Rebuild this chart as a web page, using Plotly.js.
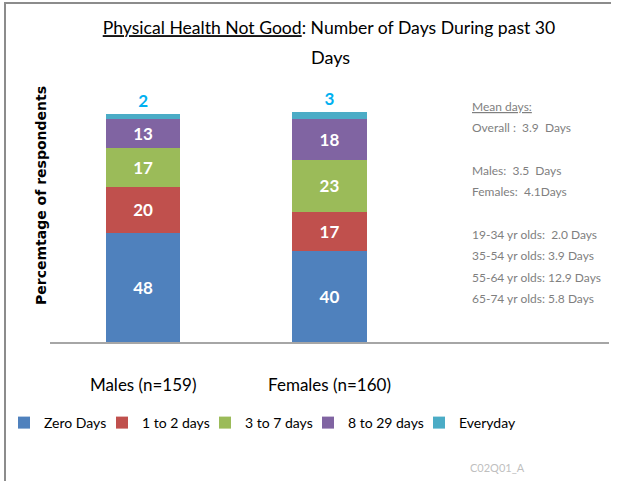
<!DOCTYPE html>
<html><head><meta charset="utf-8">
<script src="https://cdn.plot.ly/plotly-3.0.1.min.js"></script>
<style>html,body{margin:0;padding:0;background:#fff;}</style>
</head><body><div id="chart" style="width:621px;height:481px;"></div>
<script>
const categories = ['Males (n=159)', 'Females (n=160)'];
const seriesNames = ['Zero Days', '1 to 2 days', '3 to 7 days', '8 to 29 days', 'Everyday'];
const zeroDays = [48, 40];
const oneToTwoDays = [20, 17];
const threeToSevenDays = [17, 23];
const eightTo29Days = [13, 18];
const everyday = [2, 3];
const seriesValues = [zeroDays, oneToTwoDays, threeToSevenDays, eightTo29Days, everyday];
const colors = ['#4f81bd', '#c0504d', '#9bbb59', '#8064a2', '#4bacc6'];
const meanLines = ['<u>Mean days:</u>', 'Overall :  3.9  Days', '', 'Males:  3.5  Days', 'Females:  4.1Days', '',
  '19-34 yr olds:  2.0 Days', '35-54 yr olds: 3.9 Days', '55-64 yr olds: 12.9 Days', '65-74 yr olds: 5.8 Days'];
const titleLine1 = '<u>Physical Health Not Good</u>: Number of Days During past 30';
const titleLine2 = 'Days';
const yTitle = 'Percemtage of respondents';
const codeLabel = 'C02Q01_A';

const FONT = 'Lato, "Open Sans", sans-serif';
const W = 621, H = 481, L = 50, R = 609, T = 104, B = 342;
const pxPerUnit = 2.28;
const px2x = p => (p - L) / (R - L);
const py2y = p => (B - p) / (B - T);
// left edge (px) of each legend entry
const legendLeft = [4, 102, 205, 308, 419];
const legendIds = ['legend', 'legend2', 'legend3', 'legend4', 'legend5'];

const traces = seriesValues.map((vals, i) => {
  const last = i === seriesValues.length - 1;
  return {
    type: 'bar', name: seriesNames[i], x: categories, y: vals,
    legend: legendIds[i],
    marker: {color: colors[i], line: {width: 0}},
    text: vals.map(String),
    textposition: last ? 'outside' : 'inside',
    insidetextanchor: 'middle',
    textangle: 0,
    constraintext: 'none',
    cliponaxis: false,
    textfont: {family: FONT, size: 17, weight: 'bold', color: last ? '#00b0f0' : '#ffffff'},
    hoverinfo: 'none'
  };
});

const annotations = [];
annotations.push({xref: 'paper', yref: 'paper', x: px2x(330), y: py2y(57), xanchor: 'center', yanchor: 'middle',
  text: titleLine2, showarrow: false, font: {family: FONT, size: 18, color: '#000'}});
annotations.push({xref: 'paper', yref: 'paper', x: px2x(41), y: py2y(196), xanchor: 'center', yanchor: 'middle',
  textangle: -90, text: '<b>' + yTitle + '</b>', showarrow: false, font: {family: '"DejaVu Sans", Verdana, sans-serif', size: 14, color: '#000'}});
meanLines.forEach((t, i) => {
  if (!t) return;
  annotations.push({xref: 'paper', yref: 'paper', x: px2x(470), y: py2y(106 + i * 21.4), xanchor: 'left', yanchor: 'middle',
    text: t, showarrow: false, font: {family: FONT, size: 12, color: '#7f7f7f'}});
});
annotations.push({xref: 'paper', yref: 'paper', x: px2x(468), y: py2y(467), xanchor: 'left', yanchor: 'middle',
  text: codeLabel, showarrow: false, font: {family: FONT, size: 11, color: '#bfbfbf'}});

const shapes = [
  {type: 'line', xref: 'paper', yref: 'paper', x0: px2x(5), x1: px2x(5), y0: py2y(2), y1: py2y(481), line: {color: '#8c8c8c', width: 2}},
  {type: 'line', xref: 'paper', yref: 'paper', x0: px2x(4), x1: px2x(611), y0: py2y(3), y1: py2y(3), line: {color: '#8c8c8c', width: 2}}
];

const layout = {
  width: W, height: H,
  margin: {l: L, r: W - R, t: T, b: H - B, pad: 0},
  paper_bgcolor: '#fff', plot_bgcolor: '#fff',
  barmode: 'stack', bargap: 1 - 74 / 186,
  title: {text: titleLine1, x: 329 / W, xanchor: 'center', xref: 'container', y: 1 - 28 / H, yanchor: 'middle', yref: 'container',
    font: {family: FONT, size: 17.6, color: '#000'}},
  xaxis: {type: 'category', categoryarray: categories, range: [-0.5, 2.5], showgrid: false, zeroline: false,
    showline: true, linecolor: '#a6a6a6', linewidth: 1.5, ticks: '', ticklabelstandoff: 27,
    tickfont: {family: FONT, size: 17, color: '#000'}, fixedrange: true},
  yaxis: {range: [0, (B - T) / pxPerUnit], visible: false, showgrid: false, zeroline: false, fixedrange: true},
  showlegend: true,
  annotations: annotations,
  shapes: shapes
};
legendIds.forEach((id, i) => {
  layout[id] = {orientation: 'h', xref: 'container', yref: 'container', x: legendLeft[i] / W, xanchor: 'left',
    y: 1 - 423 / H, yanchor: 'middle', font: {family: FONT, size: 14, color: '#000'},
    itemclick: false, bgcolor: 'rgba(0,0,0,0)', borderwidth: 0};
});

Plotly.newPlot('chart', traces, layout, {displayModeBar: false, staticPlot: true});
</script></body></html>
